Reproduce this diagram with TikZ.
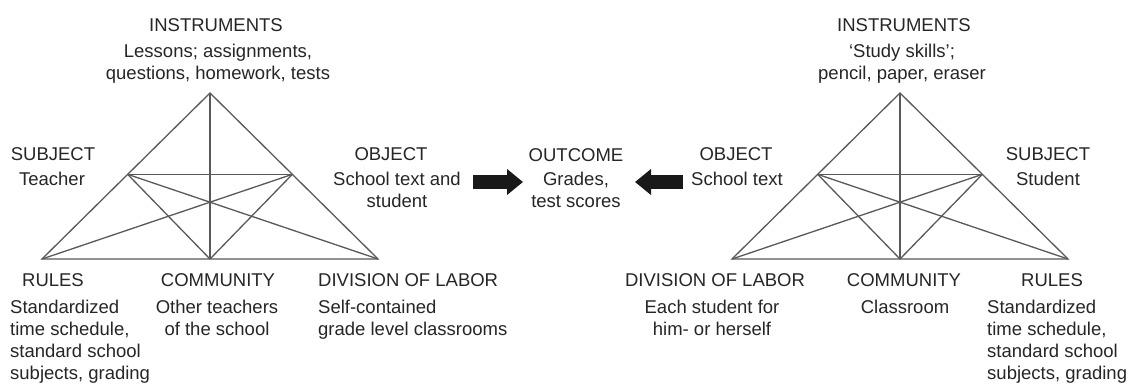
\documentclass[tikz,border=0pt]{standalone}
\usepackage{fontspec}
\setmainfont{Liberation Sans}
\usetikzlibrary{arrows.meta,calc}
\newcommand{\mctab}[1]{\begin{tabular}[t]{@{}c@{}}#1\end{tabular}}
\newcommand{\mltab}[1]{\begin{tabular}[t]{@{}l@{}}#1\end{tabular}}
\begin{document}
\begin{tikzpicture}[x=1pt,y=-1pt,
  edge/.style={draw=black!65, line width=1.3pt},
  hd/.style={anchor=base, inner sep=0pt, text=black!85, font=\fontsize{18.5}{22.3}\selectfont},
  bd/.style={hd},
  bdl/.style={hd, anchor=base west},
  fat/.style={line width=14pt, draw=black!90, -{Triangle[length=16pt,width=25pt]}}]
\fill[white] (0,0) rectangle (1131,383);
\useasboundingbox (0,0) rectangle (1131,383);

\foreach \s/\dx in {L/0,R/690}{
  \coordinate (A\s) at (210+\dx,93);
  \coordinate (BL\s) at (42+\dx,259);
  \coordinate (BM\s) at (210+\dx,259);
  \coordinate (BR\s) at (378+\dx,259);
  \coordinate (P\s) at ($(A\s)!0.49!(BL\s)$);
  \coordinate (Q\s) at ($(A\s)!0.49!(BR\s)$);
  \draw[edge] (A\s) -- (BL\s) -- (BR\s) -- cycle;
  \draw[edge] (A\s) -- (BM\s);
  \draw[edge] (P\s) -- (Q\s);
  \draw[edge] (P\s) -- (BM\s);
  \draw[edge] (Q\s) -- (BM\s);
  \draw[edge] (P\s) -- (BR\s);
  \draw[edge] (Q\s) -- (BL\s);
}

% left activity system
\node[hd] (instL) at (216,31.5) {INSTRUMENTS};
\node[bd] (instLt) at (218,57.5) {\mctab{Lessons; assignments,\\questions, homework, tests}};
\node[hd] (subjL) at (53,160.5) {SUBJECT};
\node[bd] (subjLt) at (52,185.5) {\mctab{Teacher}};
\node[hd] (objL) at (391,160.5) {OBJECT};
\node[bd] (objLt) at (397,185.5) {\mctab{School text and\\student}};
\node[hd] (rulL) at (53,286.5) {RULES};
\node[bdl] (rulLt) at (10,313) {\mltab{Standardized\\time schedule,\\standard school\\subjects, grading}};
\node[hd] (comL) at (218,286.5) {COMMUNITY};
\node[bd] (comLt) at (217,313) {\mctab{Other teachers\\of the school}};
\node[hd, anchor=base west] (divL) at (318,286.5) {DIVISION OF LABOR};
\node[bdl] (divLt) at (318,313) {\mltab{Self-contained\\grade level classrooms}};

% outcome
\node[hd] (out) at (576,161) {OUTCOME};
\node[bd] (outt) at (576,185.5) {\mctab{Grades,\\test scores}};
\coordinate (a1s) at (473,182);
\coordinate (a1e) at (523,182);
\coordinate (a2s) at (683,182);
\coordinate (a2e) at (635,182);
\draw[fat] (a1s) -- (a1e);
\draw[fat] (a2s) -- (a2e);

% right activity system
\node[hd] (instR) at (904,31.5) {INSTRUMENTS};
\node[bd] (instRt) at (902,57.5) {\mctab{‘Study skills’;\\pencil, paper, eraser}};
\node[hd] (objR) at (736,160.5) {OBJECT};
\node[bd] (objRt) at (737,185.5) {\mctab{School text}};
\node[hd] (subjR) at (1048,160.5) {SUBJECT};
\node[bd] (subjRt) at (1048,185.5) {\mctab{Student}};
\node[hd] (divR) at (715,286.5) {DIVISION OF LABOR};
\node[bd] (divRt) at (712,313) {\mctab{Each student for\\him- or herself}};
\node[hd] (comR) at (904,286.5) {COMMUNITY};
\node[bd] (comRt) at (905,313) {\mctab{Classroom}};
\node[hd] (rulR) at (1052,286.5) {RULES};
\node[bdl] (rulRt) at (987,313) {\mltab{Standardized\\time schedule,\\standard school\\subjects, grading}};
\end{tikzpicture}
\end{document}
